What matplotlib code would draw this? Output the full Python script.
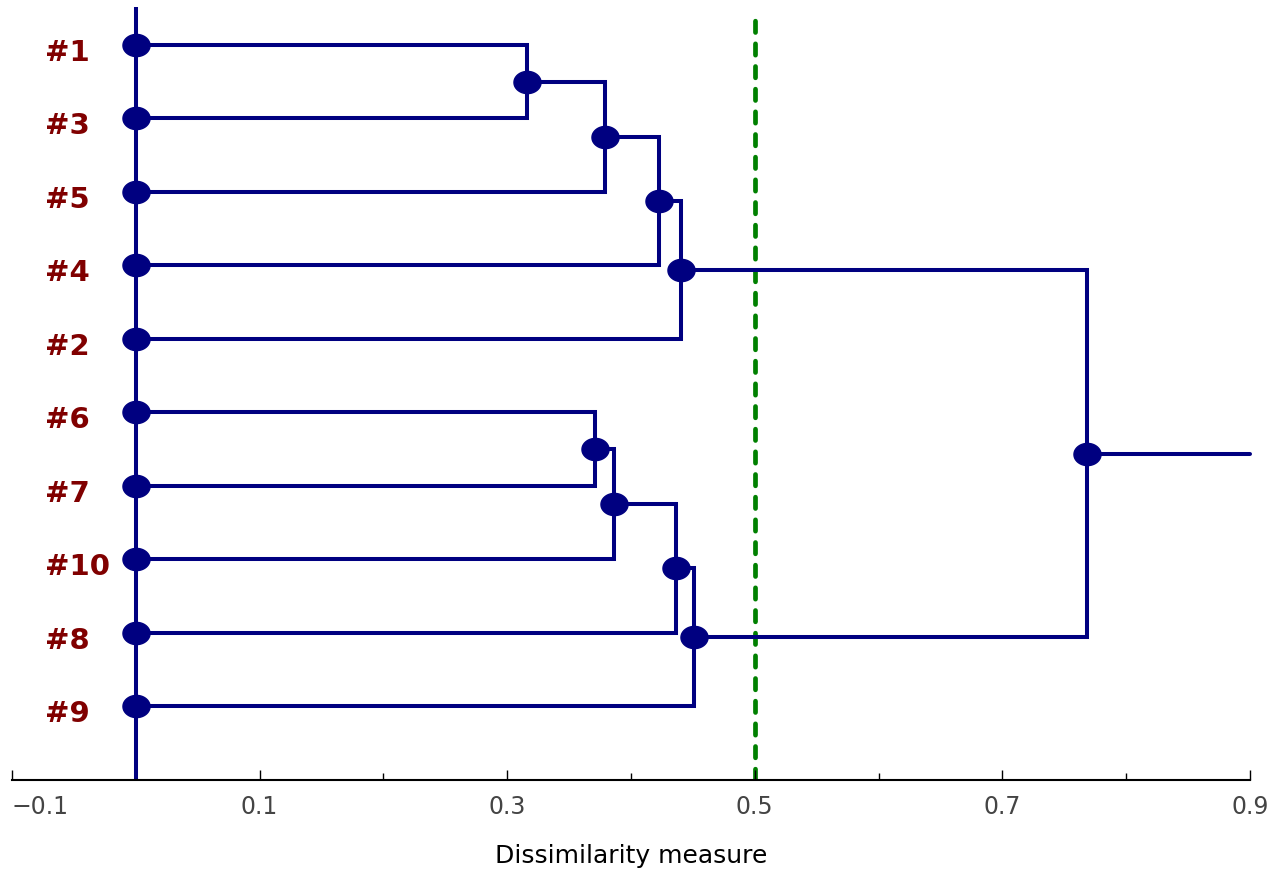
import numpy as np
import matplotlib.pyplot as plt


# leaf order top to bottom
leaves = ['#1', '#3', '#5', '#4', '#2', '#6', '#7', '#10', '#8', '#9']

# merges: left child, right child, dissimilarity at which they join
# clusters are named c1, c2, ... in the order they are formed
merge_a = ['#1', 'c1', 'c2', 'c3', '#6', 'c5', 'c6', 'c7', 'c4']
merge_b = ['#3', '#5', '#4', '#2', '#7', '#10', '#8', '#9', 'c8']
merge_h = [0.316, 0.379, 0.423, 0.440, 0.371, 0.386, 0.436, 0.451, 0.768]

cut_level = 0.5
x_max = 0.9

major_ticks = [-0.1, 0.1, 0.3, 0.5, 0.7, 0.9]
minor_ticks = [0.0, 0.2, 0.4, 0.6, 0.8]

navy = '#000080'
line_w = 2.9


def ellipse_marker(ratio=0.82, n=64):
  t = np.linspace(0, 2 * np.pi, n)
  return np.column_stack([np.cos(t), ratio * np.sin(t)])


fig = plt.figure(figsize=(12.74, 8.74), dpi=100)
ax = fig.add_axes([12 / 1274, 1 - 780 / 874, 1238 / 1274, 773 / 874])
ax.set_xlim(-0.1, x_max)
ax.set_ylim(11.008, 0.483)

pos = {name: (0.0, i + 1) for i, name in enumerate(leaves)}
nodes = []
for k, (a, b, h) in enumerate(zip(merge_a, merge_b, merge_h)):
  xa, ya = pos[a]
  xb, yb = pos[b]
  ax.plot([xa, h, h, xb], [ya, ya, yb, yb], color=navy, lw=line_w,
          solid_joinstyle='miter', zorder=2)
  node = (h, (ya + yb) / 2)
  pos[f'c{k + 1}'] = node
  nodes.append(node)

# tail of the root
root = nodes[-1]
ax.plot([root[0], x_max], [root[1], root[1]], color=navy, lw=line_w,
        solid_capstyle='round', clip_on=False, zorder=2)

# baseline through the leaves
ax.axvline(0, color=navy, lw=line_w, zorder=2)

# cut level
ax.axvline(cut_level, ymin=0, ymax=(780 - 15) / 773, color='#008000', lw=3.4,
           dashes=(2.4, 2.4), dash_capstyle='round', zorder=1)

marker = ellipse_marker()
leaf_y = np.arange(1, len(leaves) + 1)
ax.plot(np.zeros(len(leaves)), leaf_y, ls='none', marker=marker,
        markersize=19.5, color=navy, zorder=3, clip_on=False)
ax.plot([n[0] for n in nodes], [n[1] for n in nodes], ls='none',
        marker=marker, markersize=19.5, color=navy, zorder=3)

for name, y in zip(leaves, leaf_y):
  ax.text(-0.0733, y + 0.11, name, ha='left', va='center', fontsize=21,
          fontweight='bold', color='#800000')

for side in ['left', 'top', 'right']:
  ax.spines[side].set_visible(False)
ax.spines['bottom'].set_linewidth(1.5)
ax.set_yticks([])
ax.set_xticks(major_ticks)
ax.set_xticks(minor_ticks, minor=True)
ax.set_xticklabels([f'{t:.1f}'.replace('-', '\u2212') for t in major_ticks])
ax.tick_params(axis='x', which='major', direction='in', length=7, width=1,
               pad=11, labelsize=17, labelcolor='#444444')
ax.tick_params(axis='x', which='minor', direction='in', length=5, width=1)
# first label sits to the right of its tick so it stays inside the figure
ax.get_xticklabels()[0].set_horizontalalignment('left')
ax.set_xlabel('Dissimilarity measure', fontsize=18, labelpad=18)

plt.savefig('out.png', dpi=100)
